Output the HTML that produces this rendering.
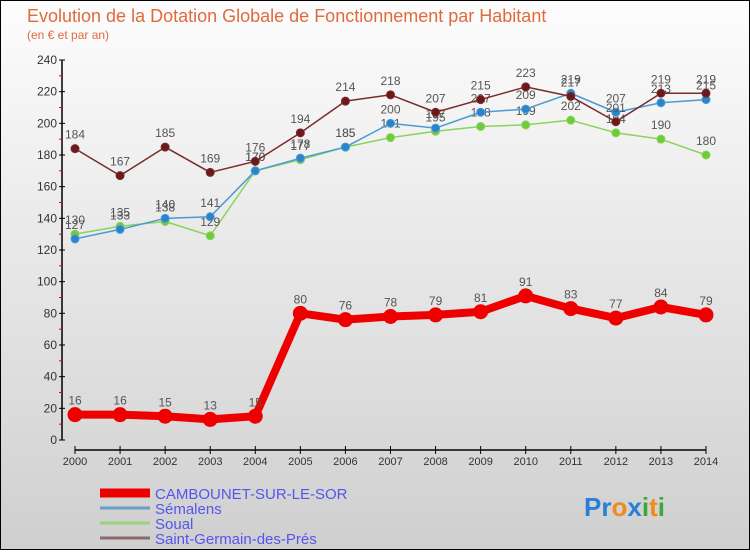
<!DOCTYPE html>
<html><head><meta charset="utf-8"><style>
body{margin:0;width:750px;height:550px;overflow:hidden;font-family:"Liberation Sans",sans-serif}
svg text{font-family:"Liberation Sans",sans-serif}
</style></head><body>
<svg id="chart" width="750" height="550" xmlns="http://www.w3.org/2000/svg">
<defs><linearGradient id="bg" x1="0" y1="0" x2="0" y2="1"><stop offset="0" stop-color="#fdfdfd"/><stop offset="1" stop-color="#cfcfcf"/></linearGradient></defs>
<rect x="0.5" y="0.5" width="749" height="549" fill="url(#bg)" stroke="#000"/>
<text x="27" y="22" font-size="18" fill="#e06a3c">Evolution de la Dotation Globale de Fonctionnement par Habitant</text>
<text x="27" y="39" font-size="12" fill="#e06a3c">(en € et par an)</text>
<g id="axes"></g><g id="series"></g>
<g>
<line x1="100" y1="493" x2="150" y2="493" stroke="#e00" stroke-width="9"/>
<text x="155" y="499" font-size="15" fill="#5555ee">CAMBOUNET-SUR-LE-SOR</text>
<line x1="100" y1="508" x2="150" y2="508" stroke="#6a9ccc" stroke-width="3"/>
<text x="155" y="514" font-size="15" fill="#5555ee">Sémalens</text>
<line x1="100" y1="523" x2="150" y2="523" stroke="#9ad47a" stroke-width="3"/>
<text x="155" y="529" font-size="15" fill="#5555ee">Soual</text>
<line x1="100" y1="538" x2="150" y2="538" stroke="#8a6a6a" stroke-width="3"/>
<text x="155" y="544" font-size="15" fill="#5555ee">Saint-Germain-des-Prés</text>
</g>
<text x="584" y="516" font-size="26" font-weight="bold"><tspan fill="#2a7fd4">Pr</tspan><tspan fill="#f08a1c">o</tspan><tspan fill="#2a7fd4">x</tspan><tspan fill="#3aa83a">i</tspan><tspan fill="#f08a1c">t</tspan><tspan fill="#3aa83a">i</tspan></text>
</svg>
<script>
const years=[2000,2001,2002,2003,2004,2005,2006,2007,2008,2009,2010,2011,2012,2013,2014];
const cambounet=[16,16,15,13,15,80,76,78,79,81,91,83,77,84,79];
const semalens=[127,133,140,141,170,178,185,200,197,207,209,219,207,213,215];
const soual=[130,135,138,129,170,177,185,191,195,198,199,202,194,190,180];
const saintGermain=[184,167,185,169,176,194,214,218,207,215,223,217,201,219,219];
const yTicks=[0,20,40,60,80,100,120,140,160,180,200,220,240];
const NS="http://www.w3.org/2000/svg";
const xS=i=>75+i*(706-75)/(years.length-1);
const yS=v=>440-v*(380/240);
function mk(tag,attrs,parent,txt){const e=document.createElementNS(NS,tag);for(const k in attrs)e.setAttribute(k,attrs[k]);if(txt!==undefined)e.textContent=txt;parent.appendChild(e);return e;}
const ax=document.getElementById('axes');
let e=mk('line',{x1:62,y1:60,x2:62,y2:440,stroke:'#000','stroke-width':1.5},ax);


e=mk('line',{x1:75,y1:450,x2:706,y2:450,stroke:'#000','stroke-width':1.5},ax);


yTicks.forEach((t,k)=>{const y=yS(t);
 mk('line',{x1:59,y1:y,x2:65,y2:y,stroke:'#000'},ax);
 if(k<yTicks.length-1) mk('line',{x1:59,y1:yS(t+10),x2:62,y2:yS(t+10),stroke:'#e00'},ax);
 const l=mk('text',{x:57,y:y+4,'font-size':12,fill:'#333','text-anchor':'end'},ax,t);
 
 
});
years.forEach((yr,i)=>{const x=xS(i);
 mk('line',{x1:x,y1:446,x2:x,y2:454,stroke:'#000'},ax);
 const l=mk('text',{x:x,y:465,'font-size':11,fill:'#333','text-anchor':'middle'},ax,yr);
 
 
});
const sg=document.getElementById('series');
function draw(vals,color,fill,w,r,name){
 const g=mk('g',{},sg);
 
 
 const p=mk('polyline',{points:vals.map((v,i)=>xS(i)+','+yS(v)).join(' '),fill:'none',stroke:color,'stroke-width':w,'stroke-linejoin':'round'},g);
 
 
 vals.forEach((v,i)=>{
  const c=mk('circle',{cx:xS(i),cy:yS(v),r:r,fill:fill,stroke:color,'stroke-width':1},g);
  
  
  const t=mk('text',{x:xS(i),y:yS(v)-10,'font-size':12,fill:'#555','text-anchor':'middle'},g,v);
  
  
 });
}
draw(soual,'#8ad45a','#6ccc3a',1.5,4,'soual');
draw(semalens,'#4a9ad4','#2a84cc',1.5,4,'semalens');
draw(saintGermain,'#7a2a2a','#6a1a1a',1.5,4,'saint-germain');
draw(cambounet,'#e00','#e00',8,7,'cambounet');
</script>
</body></html>
